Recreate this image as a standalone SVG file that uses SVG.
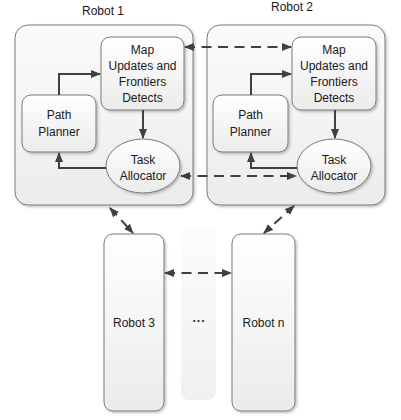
<svg xmlns="http://www.w3.org/2000/svg" width="401" height="420" viewBox="0 0 401 420">
<style>
text{font-family:"Liberation Sans",Arial,sans-serif;font-size:12px;fill:#1a1a1a;text-anchor:middle}
.outer{fill:url(#gOuter);stroke:#7a7a7a;stroke-width:1;filter:url(#sh)}
.inner{fill:url(#gInner);stroke:#7a7a7a;stroke-width:1;filter:url(#sh)}
.c{fill:none;stroke:#404040;stroke-width:2}
.d{fill:none;stroke:#404040;stroke-width:2;stroke-dasharray:10 6.5}
</style>
<defs>
<linearGradient id="gOuter" x1="0" y1="0" x2="0" y2="1"><stop offset="0" stop-color="#fbfbfb"/><stop offset="1" stop-color="#ececec"/></linearGradient>
<linearGradient id="gInner" x1="0" y1="0" x2="0" y2="1"><stop offset="0" stop-color="#ffffff"/><stop offset="1" stop-color="#ebebeb"/></linearGradient>
<linearGradient id="gDots" x1="0" y1="0" x2="0" y2="1"><stop offset="0" stop-color="#fcfcfc"/><stop offset="1" stop-color="#f0f0f0"/></linearGradient>
<filter id="sh" x="-10%" y="-10%" width="130%" height="130%"><feDropShadow dx="1.5" dy="1.5" stdDeviation="1" flood-color="#000" flood-opacity="0.25"/></filter>
<marker id="ah" viewBox="0 0 10 8" refX="9" refY="4" markerWidth="5" markerHeight="4" orient="auto-start-reverse" markerUnits="strokeWidth"><path d="M0,0 L10,4 L0,8 z" fill="#404040"/></marker>
</defs>

<g id="robot1">
<rect class="outer" x="15" y="25" width="178" height="180" rx="13"/>
<text x="103" y="15">Robot 1</text>
</g>
<g id="robot2">
<rect class="outer" x="207" y="25" width="178" height="180" rx="13"/>
<text x="292" y="11">Robot 2</text>
</g>
<g id="dots">
<rect x="181" y="228" width="35" height="172" rx="8" fill="url(#gDots)"/>
<text x="199" y="322" style="font-weight:bold;letter-spacing:1px">...</text>
</g>

<g id="map1">
<rect class="inner" x="101" y="37" width="83" height="73" rx="9"/>
<text x="142.5" y="54">Map</text><text x="142.5" y="70">Updates and</text><text x="142.5" y="86">Frontiers</text><text x="142.5" y="102">Detects</text>
</g>
<g id="path1">
<rect class="inner" x="22" y="95" width="74" height="57" rx="9"/>
<text x="59" y="119">Path</text><text x="59" y="136">Planner</text>
</g>
<g id="task1">
<ellipse class="inner" cx="143" cy="166" rx="37" ry="27"/>
<text x="143" y="164">Task</text><text x="143" y="180">Allocator</text>
</g>

<g id="map2">
<rect class="inner" x="292" y="37" width="84" height="73" rx="9"/>
<text x="334" y="54">Map</text><text x="334" y="70">Updates and</text><text x="334" y="86">Frontiers</text><text x="334" y="102">Detects</text>
</g>
<g id="path2">
<rect class="inner" x="213" y="95" width="75" height="57" rx="9"/>
<text x="250.5" y="119">Path</text><text x="250.5" y="136">Planner</text>
</g>
<g id="task2">
<ellipse class="inner" cx="334" cy="166" rx="37" ry="27"/>
<text x="334" y="164">Task</text><text x="334" y="180">Allocator</text>
</g>

<g id="robot3">
<rect class="inner" x="104" y="234" width="60" height="177" rx="9"/>
<text x="134" y="327">Robot 3</text>
</g>
<g id="robotn">
<rect class="inner" x="232" y="234" width="63" height="177" rx="9"/>
<text x="263.5" y="327">Robot n</text>
</g>

<g id="connectors">
<path class="c" d="M59,95 V74 H100" marker-end="url(#ah)"/>
<path class="c" d="M143,110 V138" marker-end="url(#ah)"/>
<path class="c" d="M106,168 H59 V153" marker-end="url(#ah)"/>
<path class="c" d="M251,95 V74 H291" marker-end="url(#ah)"/>
<path class="c" d="M335,110 V138" marker-end="url(#ah)"/>
<path class="c" d="M297,168 H251 V153" marker-end="url(#ah)"/>
<path class="d" d="M185,47 H291" marker-start="url(#ah)" marker-end="url(#ah)"/>
<path class="d" d="M181,176 H296" marker-start="url(#ah)" marker-end="url(#ah)"/>
<path class="d" d="M110,208 L133,233" marker-start="url(#ah)" marker-end="url(#ah)"/>
<path class="d" d="M294,206 L264,233" marker-start="url(#ah)" marker-end="url(#ah)"/>
<path class="d" d="M165,273 H231" marker-start="url(#ah)" marker-end="url(#ah)"/>
</g>
</svg>
